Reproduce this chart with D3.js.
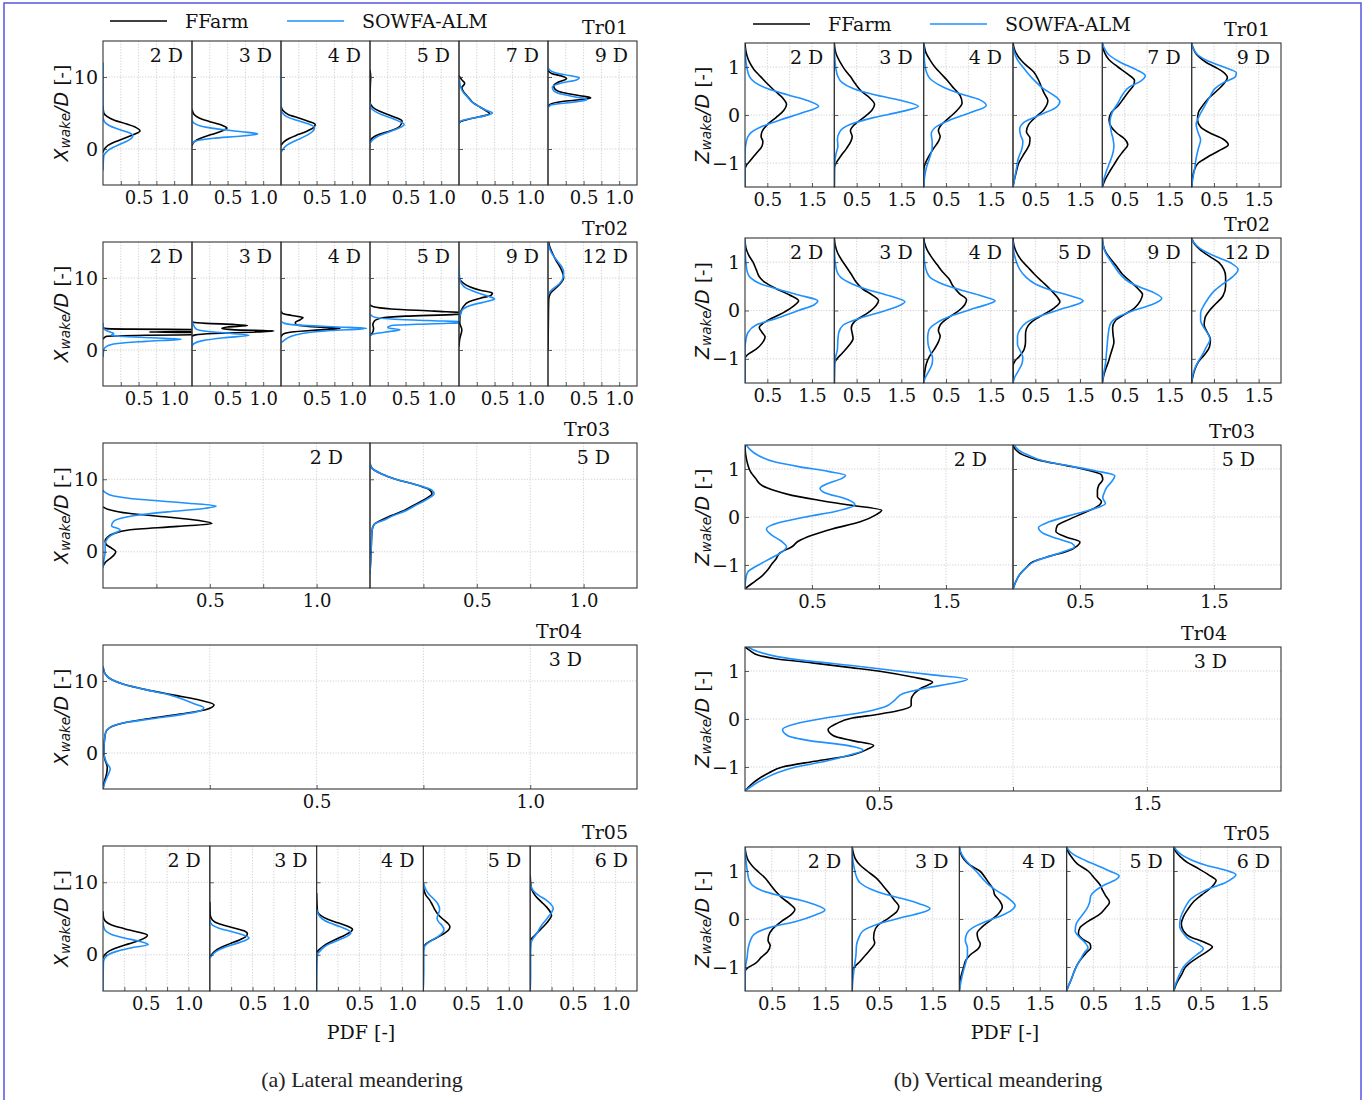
<!DOCTYPE html>
<html><head><meta charset="utf-8">
<script src="https://cdn.jsdelivr.net/npm/d3@7"></script>
<style>body{margin:0;background:#fff}</style>
</head><body>
<svg id="chart" width="1368" height="1100"></svg>
<script>
// ---------------- DATA ([coordinate, pdf] pairs) ----------------
const seriesNames = ["FFarm", "SOWFA-ALM"];
const latTitles = ["Tr01","Tr02","Tr03","Tr04","Tr05"];
const verTitles = ["Tr01","Tr02","Tr03","Tr04","Tr05"];
const distTr01 = ["2 D","3 D","4 D","5 D","7 D","9 D"];
const distTr02 = ["2 D","3 D","4 D","5 D","9 D","12 D"];
const distTr03 = ["2 D","5 D"];
const distTr04 = ["3 D"];
const distTr05 = ["2 D","3 D","4 D","5 D","6 D"];
const latXTicks = [0.25,0.5,0.75,1.0];
const latXLabels = [0.5,1.0];
const latYTicks = [0,10];
const verXTicks = [0.5,1.0,1.5];
const verXLabels = [0.5,1.5];
const verYTicks = [-1,0,1];

// ---- (a) Lateral meandering ----
const lat_tr01_ff = [
 [[-0.5,0],[0,0.02],[0.5,0.07],[1,0.17],[1.5,0.3],[2,0.43],[2.5,0.52],[3,0.46],[3.5,0.32],[4,0.16],[4.5,0.06],[5,0.01],[6,0]],
 [[0.5,0],[1,0.03],[1.5,0.12],[2,0.27],[2.5,0.42],[2.9,0.49],[3.3,0.42],[3.8,0.25],[4.3,0.1],[4.8,0.03],[5.5,0]],
 [[0.5,0],[1,0.04],[1.5,0.12],[2,0.24],[2.5,0.37],[3,0.46],[3.4,0.48],[3.8,0.4],[4.3,0.25],[4.8,0.1],[5.3,0.03],[6,0]],
 [[1,0],[1.5,0.03],[2,0.12],[2.5,0.28],[3,0.4],[3.5,0.44],[3.9,0.45],[4.3,0.38],[4.8,0.25],[5.3,0.12],[5.8,0.04],[6.5,0],[9,0.005],[10,0.01],[11,0]],
 [[3.5,0],[3.8,0.02],[4.1,0.12],[4.5,0.3],[4.9,0.43],[5.3,0.38],[5.8,0.3],[6.4,0.2],[7.2,0.13],[8,0.06],[8.5,0.04],[9.1,0.08],[9.6,0.04],[10.2,0]],
 [[5.8,0],[6.2,0.03],[6.6,0.2],[6.9,0.5],[7.1,0.6],[7.4,0.45],[7.8,0.22],[8.3,0.1],[8.8,0.08],[9.3,0.15],[9.8,0.26],[10.1,0.2],[10.5,0.05],[10.9,0]]
];
const lat_tr01_sw = [
 [[-3,0],[-1,0.01],[-0.5,0.04],[0,0.1],[0.5,0.2],[1,0.32],[1.5,0.4],[1.9,0.42],[2.3,0.36],[2.8,0.2],[3.3,0.08],[3.8,0.02],[4.5,0],[12,0]],
 [[0.7,0],[1.1,0.05],[1.5,0.3],[1.8,0.7],[2.1,0.92],[2.4,0.7],[2.8,0.35],[3.2,0.12],[3.6,0.03],[4,0]],
 [[-0.5,0],[0,0.03],[0.5,0.08],[1,0.17],[1.5,0.28],[2,0.38],[2.5,0.45],[3,0.47],[3.5,0.38],[4,0.22],[4.5,0.08],[5,0.02],[5.5,0],[11,0]],
 [[0.8,0],[1.2,0.03],[1.7,0.1],[2.2,0.22],[2.7,0.36],[3.1,0.45],[3.4,0.48],[3.8,0.42],[4.3,0.3],[4.8,0.16],[5.3,0.06],[5.8,0.01],[6.5,0]],
 [[3.5,0],[3.9,0.03],[4.2,0.15],[4.6,0.36],[5.0,0.47],[5.3,0.4],[5.8,0.3],[6.4,0.2],[7.2,0.12],[8,0.05],[8.7,0.02],[9.3,0.01],[10,0]],
 [[5.7,0],[6.1,0.04],[6.4,0.25],[6.7,0.5],[6.9,0.55],[7.2,0.4],[7.6,0.2],[8.1,0.08],[8.6,0.06],[9.2,0.2],[9.6,0.4],[9.9,0.44],[10.2,0.3],[10.6,0.1],[11,0.02],[11.4,0]]
];
const lat_tr02_ff = [
 [[1.5,0],[1.9,0.05],[2.05,0.6],[2.15,1.6],[2.3,1.8],[2.42,1.4],[2.5,0.65],[2.58,1.4],[2.7,1.9],[2.82,1.5],[2.9,0.4],[2.97,0.05],[3.1,0]],
 [[1.9,0],[2.1,0.05],[2.3,0.3],[2.5,0.9],[2.65,1.15],[2.8,0.6],[3.0,0.42],[3.2,0.5],[3.4,0.78],[3.55,0.6],[3.7,0.2],[3.85,0.02],[4,0]],
 [[1.8,0],[2.2,0.03],[2.5,0.15],[2.8,0.55],[3.0,0.83],[3.2,0.5],[3.5,0.22],[3.8,0.2],[4.2,0.27],[4.5,0.31],[4.8,0.15],[5.1,0.02],[5.4,0]],
 [[2,0],[2.3,0.03],[3,0.05],[3.5,0.04],[4,0.06],[4.4,0.15],[4.7,0.5],[4.95,1.2],[5.15,1.35],[5.4,0.9],[5.7,0.3],[6.0,0.05],[6.3,0]],
 [[0.5,0],[1.5,0.01],[2.8,0.04],[3.8,0.01],[5,0.02],[6,0.06],[6.7,0.14],[7.2,0.3],[7.6,0.45],[7.9,0.47],[8.3,0.3],[8.8,0.15],[9.3,0.06],[9.8,0.01],[10.2,0]],
 [[0,0],[4,0.005],[7,0.01],[7.8,0.03],[8.5,0.1],[9.3,0.18],[10,0.22],[10.6,0.21],[11.5,0.17],[12.5,0.11],[13.5,0.06],[14.5,0.02],[15,0.01]]
];
const lat_tr02_sw = [
 [[-1,0],[0,0.01],[0.5,0.05],[0.9,0.2],[1.2,0.6],[1.5,1.1],[1.7,0.7],[1.9,0.25],[2.1,0.12],[2.3,0.15],[2.5,0.1],[2.8,0.03],[3.2,0],[3.8,0]],
 [[0.5,0],[0.9,0.03],[1.3,0.15],[1.7,0.45],[2.05,0.8],[2.3,0.55],[2.6,0.2],[2.9,0.06],[3.3,0.03],[3.8,0.01],[4.3,0]],
 [[1,0],[1.3,0.04],[1.8,0.12],[2.3,0.3],[2.7,0.7],[3.0,1.2],[3.2,0.8],[3.45,0.25],[3.7,0.05],[4,0]],
 [[2,0],[2.3,0.08],[2.6,0.3],[2.8,0.42],[3.1,0.25],[3.4,0.3],[3.65,0.9],[3.85,1.4],[4.1,0.8],[4.3,0.3],[4.6,0.05],[5,0]],
 [[4,0],[5,0.02],[5.7,0.06],[6.3,0.2],[6.8,0.42],[7.1,0.5],[7.5,0.4],[8.0,0.25],[8.6,0.1],[9.3,0.03],[10,0.01],[11.5,0]],
 [[7.5,0],[8,0.02],[8.5,0.07],[9.2,0.16],[10,0.21],[10.8,0.22],[11.6,0.19],[12.5,0.12],[13.5,0.05],[14.5,0.01],[15,0]]
];
const lat_tr03_ff = [
 [[-2,0],[-1.5,0.01],[-1,0.03],[-0.5,0.05],[0,0.06],[0.5,0.04],[1,0.015],[1.5,0.01],[2,0.02],[2.5,0.05],[3,0.12],[3.5,0.35],[3.9,0.51],[4.3,0.45],[4.8,0.3],[5.3,0.12],[5.8,0.03],[6.2,0]],
 [[-3,0],[0,0.005],[3,0.01],[3.8,0.02],[4.3,0.05],[5,0.1],[5.7,0.16],[6.5,0.21],[7.3,0.26],[8.0,0.29],[8.5,0.28],[9.2,0.22],[10,0.12],[10.8,0.05],[11.5,0.01],[12.2,0]]
];
const lat_tr03_sw = [
 [[-2.2,0],[-1,0.005],[0,0.01],[1,0.01],[1.8,0.02],[2.5,0.05],[3.0,0.08],[3.6,0.04],[4.2,0.05],[4.6,0.08],[5.0,0.15],[5.5,0.3],[6.0,0.48],[6.3,0.53],[6.7,0.4],[7.2,0.18],[7.7,0.05],[8.2,0.01],[8.5,0]],
 [[-3,0],[0,0.005],[3,0.01],[3.8,0.02],[4.3,0.06],[5,0.11],[5.7,0.17],[6.5,0.22],[7.3,0.27],[8.0,0.3],[8.5,0.29],[9.2,0.22],[10,0.12],[10.8,0.05],[11.5,0.01],[12.2,0]]
];
const lat_tr04_ff = [
 [[-5,0],[-4,0.003],[-3,0.008],[-2,0.01],[-1,0.005],[0,0.002],[1.5,0.003],[2.8,0.006],[3.5,0.015],[4.2,0.05],[4.8,0.11],[5.4,0.18],[6.0,0.24],[6.7,0.26],[7.3,0.23],[8,0.17],[8.8,0.1],[9.5,0.05],[10.2,0.02],[11,0.005],[12,0]]
];
const lat_tr04_sw = [
 [[-5,0],[-4,0.005],[-3,0.012],[-2.2,0.017],[-1.3,0.008],[0,0.002],[1.5,0.003],[2.8,0.006],[3.5,0.015],[4.2,0.05],[4.8,0.12],[5.4,0.19],[5.9,0.23],[6.3,0.236],[6.8,0.215],[7.4,0.19],[8,0.16],[8.8,0.1],[9.5,0.05],[10.2,0.02],[11,0.005],[12,0]]
];
const lat_tr05_ff = [
 [[-0.5,0],[0,0.02],[0.5,0.07],[1,0.17],[1.5,0.3],[2,0.43],[2.4,0.5],[2.7,0.52],[3.1,0.42],[3.6,0.25],[4.1,0.1],[4.6,0.03],[5.2,0.005],[6,0]],
 [[-0.3,0],[0,0.02],[0.5,0.06],[1,0.13],[1.5,0.23],[2,0.34],[2.5,0.42],[2.9,0.44],[3.3,0.4],[3.8,0.25],[4.3,0.1],[4.8,0.03],[5.5,0.005],[7.3,0]],
 [[0.3,0],[0.7,0.03],[1.2,0.08],[1.7,0.15],[2.2,0.24],[2.7,0.33],[3.2,0.4],[3.5,0.42],[3.9,0.37],[4.4,0.25],[4.9,0.13],[5.4,0.05],[6,0.01],[8.5,0]],
 [[1,0],[1.5,0.03],[2,0.1],[2.5,0.18],[3,0.25],[3.5,0.3],[3.9,0.31],[4.4,0.28],[5,0.22],[5.6,0.17],[6.3,0.13],[7,0.1],[7.6,0.07],[8.2,0.03],[8.8,0.01],[9.5,0]],
 [[2,0],[2.4,0.03],[3,0.08],[3.6,0.13],[4.2,0.18],[4.8,0.22],[5.4,0.25],[6,0.23],[6.6,0.19],[7.3,0.13],[8,0.07],[8.7,0.03],[9.4,0.01],[11,0]]
];
const lat_tr05_sw = [
 [[-5,0],[-1,0.005],[-0.5,0.02],[0,0.06],[0.5,0.17],[1,0.35],[1.4,0.53],[1.8,0.45],[2.3,0.25],[2.8,0.1],[3.3,0.03],[4,0.005],[4.5,0]],
 [[-0.5,0],[0,0.03],[0.5,0.08],[1,0.17],[1.5,0.3],[2,0.42],[2.3,0.46],[2.7,0.4],[3.2,0.25],[3.7,0.1],[4.2,0.02],[4.8,0]],
 [[-5,0],[-2,0.003],[0,0.01],[0.5,0.04],[1,0.08],[1.5,0.15],[2,0.25],[2.5,0.35],[3,0.4],[3.4,0.37],[3.9,0.27],[4.4,0.15],[5,0.06],[5.6,0.02],[6.3,0]],
 [[-4.5,0],[-2,0.005],[0,0.005],[1,0.01],[1.5,0.04],[2,0.1],[2.5,0.17],[3,0.22],[3.5,0.24],[4,0.22],[4.5,0.18],[5,0.16],[5.5,0.17],[6.2,0.19],[7,0.17],[7.7,0.12],[8.4,0.06],[9.2,0.02],[10,0]],
 [[-5,0],[-3,0.005],[0,0.005],[1.5,0.01],[2.2,0.03],[2.8,0.07],[3.4,0.1],[4,0.13],[4.6,0.17],[5.2,0.21],[5.8,0.25],[6.4,0.27],[7,0.24],[7.6,0.18],[8.2,0.1],[8.8,0.04],[9.4,0.01],[10,0]]
];

// ---- (b) Vertical meandering ----
const ver_tr01_ff = [
 [[-1.5,0],[-1.15,0],[-1.05,0.03],[-0.95,0.12],[-0.8,0.25],[-0.65,0.38],[-0.55,0.4],[-0.45,0.36],[-0.35,0.38],[-0.2,0.5],[-0.05,0.7],[0.1,0.87],[0.22,0.93],[0.35,0.85],[0.5,0.67],[0.65,0.5],[0.8,0.35],[0.95,0.2],[1.1,0.1],[1.25,0.04],[1.4,0.01],[1.5,0]],
 [[-1.5,0],[-1.1,0],[-1.0,0.04],[-0.85,0.15],[-0.7,0.27],[-0.55,0.37],[-0.45,0.4],[-0.33,0.36],[-0.2,0.45],[-0.05,0.66],[0.1,0.84],[0.22,0.9],[0.35,0.8],[0.5,0.6],[0.65,0.47],[0.8,0.36],[0.95,0.23],[1.1,0.13],[1.25,0.05],[1.4,0.01],[1.5,0]],
 [[-1.5,0],[-1.15,0],[-1.0,0.04],[-0.85,0.12],[-0.7,0.22],[-0.55,0.33],[-0.45,0.37],[-0.33,0.33],[-0.2,0.4],[-0.05,0.58],[0.1,0.75],[0.25,0.86],[0.4,0.82],[0.55,0.68],[0.7,0.55],[0.85,0.4],[1.0,0.25],[1.15,0.14],[1.3,0.05],[1.45,0.01],[1.5,0]],
 [[-1.5,0],[-1.4,0.02],[-1.2,0.07],[-1.0,0.13],[-0.85,0.22],[-0.7,0.32],[-0.6,0.37],[-0.48,0.38],[-0.35,0.3],[-0.2,0.35],[-0.05,0.5],[0.1,0.68],[0.3,0.78],[0.45,0.7],[0.6,0.63],[0.75,0.56],[0.9,0.46],[1.05,0.28],[1.2,0.13],[1.35,0.04],[1.5,0]],
 [[-1.5,0],[-1.35,0.06],[-1.2,0.15],[-1.05,0.25],[-0.9,0.35],[-0.75,0.47],[-0.62,0.57],[-0.5,0.5],[-0.38,0.33],[-0.25,0.2],[-0.1,0.15],[0.05,0.2],[0.2,0.36],[0.35,0.48],[0.5,0.6],[0.62,0.7],[0.72,0.72],[0.85,0.57],[1.0,0.35],[1.15,0.15],[1.3,0.05],[1.45,0.01],[1.5,0]],
 [[-1.5,0],[-1.3,0.02],[-1.15,0.06],[-1.0,0.15],[-0.88,0.35],[-0.75,0.6],[-0.62,0.82],[-0.5,0.7],[-0.38,0.42],[-0.25,0.2],[-0.1,0.13],[0.05,0.15],[0.2,0.25],[0.35,0.38],[0.5,0.56],[0.65,0.72],[0.78,0.8],[0.9,0.7],[1.0,0.52],[1.1,0.32],[1.25,0.12],[1.4,0.03],[1.5,0]]
];
const ver_tr01_sw = [
 [[-1.5,0],[-0.8,0],[-0.55,0.03],[-0.4,0.1],[-0.25,0.35],[-0.1,0.8],[0.05,1.3],[0.18,1.65],[0.3,1.4],[0.42,0.95],[0.55,0.5],[0.68,0.22],[0.8,0.1],[1.0,0.04],[1.2,0.01],[1.4,0]],
 [[-1.5,0],[-1,0.01],[-0.8,0.04],[-0.65,0.08],[-0.5,0.07],[-0.35,0.12],[-0.2,0.35],[-0.05,0.9],[0.07,1.5],[0.18,1.88],[0.3,1.5],[0.42,0.9],[0.55,0.42],[0.68,0.17],[0.8,0.08],[1.0,0.03],[1.2,0.01],[1.45,0]],
 [[-1.5,0],[-1.3,0.02],[-1.1,0.06],[-0.9,0.13],[-0.7,0.19],[-0.55,0.19],[-0.4,0.17],[-0.25,0.27],[-0.1,0.6],[0.05,1.05],[0.2,1.4],[0.32,1.25],[0.45,0.8],[0.6,0.4],[0.75,0.15],[0.9,0.06],[1.1,0.02],[1.3,0.01],[1.5,0]],
 [[-1.5,0],[-1.3,0.04],[-1.1,0.08],[-0.9,0.12],[-0.7,0.2],[-0.55,0.22],[-0.42,0.17],[-0.3,0.15],[-0.15,0.25],[0,0.6],[0.15,0.95],[0.28,1.05],[0.42,0.9],[0.55,0.68],[0.7,0.5],[0.85,0.35],[1.0,0.22],[1.15,0.1],[1.3,0.03],[1.45,0]],
 [[-1.5,0],[-1.35,0.03],[-1.2,0.08],[-1.0,0.16],[-0.85,0.22],[-0.65,0.26],[-0.5,0.24],[-0.35,0.2],[-0.15,0.17],[0.05,0.22],[0.25,0.35],[0.45,0.47],[0.58,0.6],[0.7,0.85],[0.82,0.96],[0.95,0.75],[1.1,0.4],[1.25,0.15],[1.4,0.04],[1.5,0]],
 [[-1.5,0],[-1.3,0.03],[-1.1,0.07],[-0.9,0.1],[-0.7,0.15],[-0.52,0.2],[-0.38,0.15],[-0.2,0.1],[0,0.18],[0.2,0.3],[0.4,0.42],[0.55,0.52],[0.68,0.72],[0.8,0.98],[0.88,1.0],[1.0,0.72],[1.12,0.38],[1.25,0.14],[1.38,0.04],[1.5,0]]
];
const ver_tr02_ff = [
 [[-1.5,0],[-1.0,0],[-0.92,0.05],[-0.8,0.25],[-0.68,0.38],[-0.55,0.45],[-0.45,0.38],[-0.35,0.32],[-0.2,0.52],[-0.05,0.85],[0.1,1.1],[0.2,1.2],[0.32,1.0],[0.45,0.7],[0.58,0.45],[0.7,0.32],[0.85,0.25],[1.0,0.18],[1.15,0.08],[1.3,0.02],[1.45,0]],
 [[-1.5,0],[-1.1,0],[-1.0,0.06],[-0.88,0.18],[-0.72,0.33],[-0.58,0.42],[-0.47,0.4],[-0.36,0.38],[-0.22,0.46],[-0.05,0.75],[0.1,0.93],[0.2,0.99],[0.32,0.85],[0.45,0.63],[0.6,0.48],[0.75,0.38],[0.9,0.27],[1.05,0.16],[1.2,0.07],[1.35,0.02],[1.5,0]],
 [[-1.5,0],[-1.3,0.02],[-1.1,0.06],[-0.95,0.13],[-0.8,0.24],[-0.65,0.33],[-0.53,0.37],[-0.42,0.33],[-0.3,0.37],[-0.15,0.55],[0,0.79],[0.12,0.92],[0.22,0.96],[0.35,0.8],[0.5,0.66],[0.65,0.57],[0.8,0.42],[0.95,0.3],[1.1,0.18],[1.25,0.08],[1.4,0.02],[1.5,0]],
 [[-1.5,0],[-1.15,0],[-1.05,0.04],[-0.95,0.14],[-0.8,0.25],[-0.65,0.28],[-0.5,0.28],[-0.38,0.3],[-0.25,0.4],[-0.1,0.65],[0.05,0.92],[0.18,1.05],[0.3,0.97],[0.45,0.82],[0.6,0.65],[0.75,0.48],[0.9,0.33],[1.05,0.18],[1.2,0.08],[1.35,0.02],[1.5,0]],
 [[-1.5,0],[-1.35,0.03],[-1.2,0.08],[-1.05,0.14],[-0.92,0.18],[-0.8,0.22],[-0.65,0.26],[-0.5,0.24],[-0.35,0.23],[-0.2,0.3],[-0.08,0.5],[0.05,0.72],[0.2,0.85],[0.33,0.9],[0.45,0.8],[0.6,0.63],[0.75,0.45],[0.9,0.33],[1.05,0.2],[1.2,0.08],[1.35,0.02],[1.5,0]],
 [[-1.5,0],[-1.35,0.03],[-1.2,0.08],[-1.05,0.16],[-0.9,0.3],[-0.75,0.4],[-0.6,0.42],[-0.45,0.35],[-0.3,0.28],[-0.15,0.3],[0,0.4],[0.15,0.55],[0.3,0.7],[0.5,0.76],[0.7,0.76],[0.85,0.72],[1.0,0.6],[1.12,0.4],[1.25,0.2],[1.38,0.06],[1.5,0]]
];
const ver_tr02_sw = [
 [[-1.5,0],[-0.8,0],[-0.6,0.02],[-0.45,0.07],[-0.3,0.25],[-0.15,0.75],[0,1.2],[0.12,1.55],[0.2,1.63],[0.32,1.2],[0.45,0.7],[0.55,0.35],[0.68,0.12],[0.8,0.05],[1.0,0.02],[1.2,0.005],[1.5,0]],
 [[-1.5,0],[-1.0,0.02],[-0.8,0.07],[-0.6,0.08],[-0.45,0.1],[-0.3,0.2],[-0.15,0.6],[0,1.15],[0.1,1.45],[0.18,1.58],[0.3,1.25],[0.43,0.75],[0.55,0.4],[0.68,0.15],[0.8,0.06],[1.0,0.02],[1.2,0.005],[1.45,0]],
 [[-1.5,0],[-1.4,0.03],[-1.25,0.12],[-1.1,0.19],[-0.98,0.2],[-0.85,0.15],[-0.7,0.1],[-0.55,0.09],[-0.4,0.12],[-0.25,0.3],[-0.1,0.65],[0.05,1.15],[0.15,1.5],[0.2,1.6],[0.3,1.3],[0.42,0.85],[0.55,0.42],[0.68,0.15],[0.8,0.07],[1.0,0.02],[1.2,0.005],[1.45,0]],
 [[-1.5,0],[-1.4,0.03],[-1.25,0.12],[-1.1,0.2],[-0.98,0.22],[-0.85,0.17],[-0.7,0.1],[-0.55,0.1],[-0.4,0.15],[-0.25,0.3],[-0.1,0.65],[0.05,1.15],[0.15,1.5],[0.2,1.57],[0.3,1.3],[0.42,0.85],[0.55,0.5],[0.7,0.28],[0.85,0.15],[1.0,0.08],[1.2,0.02],[1.45,0]],
 [[-1.5,0],[-1.3,0.03],[-1.1,0.07],[-0.9,0.09],[-0.7,0.11],[-0.5,0.13],[-0.3,0.17],[-0.15,0.32],[0,0.7],[0.12,1.1],[0.25,1.33],[0.37,1.15],[0.48,0.85],[0.6,0.58],[0.75,0.4],[0.9,0.28],[1.05,0.17],[1.2,0.07],[1.35,0.02],[1.5,0]],
 [[-1.5,0],[-1.35,0.02],[-1.2,0.07],[-1.05,0.15],[-0.9,0.25],[-0.75,0.33],[-0.6,0.41],[-0.48,0.36],[-0.35,0.27],[-0.2,0.2],[-0.05,0.2],[0.1,0.27],[0.25,0.37],[0.4,0.5],[0.55,0.7],[0.7,0.92],[0.85,1.04],[0.97,0.9],[1.1,0.58],[1.22,0.3],[1.35,0.1],[1.45,0.02],[1.5,0]]
];
const ver_tr03_ff = [
 [[-1.5,0],[-1.45,0.02],[-1.35,0.07],[-1.22,0.13],[-1.1,0.17],[-0.98,0.2],[-0.88,0.23],[-0.75,0.26],[-0.62,0.35],[-0.5,0.4],[-0.38,0.5],[-0.25,0.65],[-0.1,0.86],[0.05,0.98],[0.14,1.02],[0.25,0.78],[0.35,0.55],[0.45,0.35],[0.55,0.22],[0.65,0.13],[0.8,0.08],[0.95,0.04],[1.1,0.02],[1.3,0.005],[1.5,0]],
 [[-1.5,0],[-1.35,0.02],[-1.2,0.05],[-1.05,0.1],[-0.93,0.15],[-0.82,0.27],[-0.72,0.4],[-0.6,0.48],[-0.52,0.5],[-0.42,0.4],[-0.3,0.32],[-0.18,0.33],[-0.05,0.42],[0.1,0.54],[0.22,0.63],[0.32,0.66],[0.42,0.63],[0.55,0.63],[0.66,0.64],[0.78,0.67],[0.88,0.66],[0.98,0.55],[1.07,0.4],[1.18,0.2],[1.3,0.07],[1.4,0.02],[1.5,0]]
];
const ver_tr03_sw = [
 [[-1.5,0],[-1.3,0.005],[-1.15,0.02],[-1.0,0.1],[-0.85,0.2],[-0.72,0.28],[-0.62,0.31],[-0.5,0.27],[-0.38,0.2],[-0.25,0.16],[-0.12,0.25],[0,0.45],[0.12,0.68],[0.26,0.82],[0.38,0.75],[0.5,0.6],[0.6,0.56],[0.7,0.62],[0.8,0.72],[0.87,0.75],[0.95,0.62],[1.05,0.4],[1.15,0.22],[1.28,0.1],[1.4,0.04],[1.5,0.01]],
 [[-1.5,0],[-1.35,0.02],[-1.2,0.05],[-1.05,0.1],[-0.93,0.16],[-0.82,0.27],[-0.72,0.38],[-0.62,0.46],[-0.55,0.44],[-0.45,0.33],[-0.33,0.22],[-0.22,0.19],[-0.1,0.27],[0.05,0.45],[0.15,0.58],[0.28,0.69],[0.4,0.67],[0.5,0.68],[0.62,0.7],[0.75,0.74],[0.86,0.76],[0.96,0.62],[1.05,0.45],[1.15,0.25],[1.28,0.12],[1.4,0.04],[1.5,0.01]]
];
const ver_tr04_ff = [
 [[-1.5,0],[-1.38,0.02],[-1.25,0.05],[-1.12,0.09],[-1.0,0.14],[-0.88,0.26],[-0.75,0.4],[-0.62,0.46],[-0.55,0.48],[-0.45,0.4],[-0.35,0.33],[-0.22,0.31],[-0.1,0.34],[0.02,0.4],[0.1,0.5],[0.17,0.57],[0.28,0.62],[0.4,0.62],[0.52,0.63],[0.65,0.66],[0.77,0.7],[0.88,0.62],[0.98,0.52],[1.08,0.38],[1.17,0.25],[1.25,0.12],[1.33,0.05],[1.42,0.02],[1.5,0]]
];
const ver_tr04_sw = [
 [[-1.5,0],[-1.38,0.03],[-1.25,0.07],[-1.12,0.12],[-1.0,0.19],[-0.88,0.3],[-0.75,0.39],[-0.65,0.44],[-0.55,0.38],[-0.45,0.24],[-0.35,0.16],[-0.22,0.14],[-0.1,0.19],[0.02,0.3],[0.12,0.42],[0.25,0.52],[0.4,0.56],[0.53,0.59],[0.65,0.68],[0.75,0.78],[0.83,0.83],[0.92,0.7],[1.0,0.57],[1.1,0.42],[1.2,0.25],[1.3,0.12],[1.4,0.05],[1.5,0.01]]
];
const ver_tr05_ff = [
 [[-1.5,0],[-1.1,0],[-1.02,0.05],[-0.92,0.2],[-0.8,0.3],[-0.68,0.42],[-0.55,0.47],[-0.45,0.43],[-0.35,0.44],[-0.2,0.52],[-0.05,0.68],[0.08,0.85],[0.2,0.93],[0.32,0.83],[0.45,0.68],[0.58,0.57],[0.72,0.47],[0.85,0.38],[0.98,0.25],[1.1,0.14],[1.22,0.06],[1.35,0.02],[1.5,0]],
 [[-1.5,0],[-1.1,0],[-1.0,0.04],[-0.88,0.15],[-0.75,0.25],[-0.62,0.35],[-0.5,0.42],[-0.4,0.4],[-0.28,0.41],[-0.13,0.48],[0.02,0.68],[0.15,0.83],[0.26,0.87],[0.4,0.78],[0.55,0.68],[0.7,0.57],[0.85,0.45],[1.0,0.28],[1.12,0.15],[1.25,0.06],[1.38,0.02],[1.5,0]],
 [[-1.5,0],[-1.3,0.01],[-1.15,0.04],[-1.0,0.08],[-0.86,0.12],[-0.75,0.2],[-0.62,0.35],[-0.52,0.39],[-0.42,0.35],[-0.3,0.33],[-0.17,0.42],[-0.03,0.58],[0.1,0.72],[0.25,0.8],[0.38,0.75],[0.5,0.66],[0.62,0.63],[0.75,0.55],[0.88,0.47],[1.0,0.38],[1.12,0.2],[1.25,0.08],[1.38,0.02],[1.5,0]],
 [[-1.5,0],[-1.38,0.04],[-1.25,0.09],[-1.1,0.14],[-0.95,0.2],[-0.82,0.28],[-0.7,0.37],[-0.6,0.45],[-0.52,0.44],[-0.42,0.3],[-0.3,0.22],[-0.18,0.25],[-0.05,0.4],[0.1,0.62],[0.22,0.72],[0.35,0.8],[0.48,0.73],[0.6,0.67],[0.72,0.62],[0.85,0.52],[1.0,0.4],[1.15,0.2],[1.28,0.1],[1.4,0.03],[1.5,0]],
 [[-1.5,0],[-1.4,0.03],[-1.28,0.08],[-1.15,0.15],[-1.0,0.22],[-0.9,0.32],[-0.78,0.48],[-0.68,0.62],[-0.58,0.72],[-0.48,0.56],[-0.37,0.3],[-0.25,0.18],[-0.1,0.14],[0.05,0.18],[0.2,0.26],[0.35,0.36],[0.5,0.52],[0.62,0.66],[0.72,0.75],[0.8,0.79],[0.92,0.65],[1.05,0.46],[1.18,0.25],[1.3,0.12],[1.4,0.04],[1.5,0]]
];
const ver_tr05_sw = [
 [[-1.5,0],[-1.0,0.01],[-0.8,0.04],[-0.6,0.06],[-0.45,0.1],[-0.32,0.17],[-0.18,0.45],[-0.05,0.95],[0.08,1.3],[0.19,1.49],[0.3,1.3],[0.4,1.0],[0.5,0.6],[0.6,0.3],[0.7,0.14],[0.8,0.08],[0.95,0.05],[1.1,0.03],[1.3,0.01],[1.5,0]],
 [[-1.5,0],[-1.3,0.01],[-1.0,0.04],[-0.75,0.07],[-0.55,0.08],[-0.4,0.12],[-0.25,0.2],[-0.1,0.5],[0.05,1.0],[0.15,1.35],[0.22,1.45],[0.32,1.25],[0.42,0.95],[0.52,0.6],[0.62,0.35],[0.75,0.15],[0.88,0.08],[1.05,0.04],[1.25,0.01],[1.5,0]],
 [[-1.5,0],[-1.3,0.03],[-1.1,0.07],[-0.9,0.12],[-0.75,0.15],[-0.6,0.15],[-0.45,0.11],[-0.3,0.14],[-0.18,0.25],[-0.05,0.5],[0.08,0.8],[0.18,0.97],[0.28,1.04],[0.4,0.95],[0.5,0.83],[0.6,0.68],[0.7,0.56],[0.82,0.45],[0.95,0.35],[1.1,0.22],[1.25,0.1],[1.38,0.03],[1.5,0]],
 [[-1.5,0],[-1.38,0.04],[-1.25,0.09],[-1.1,0.14],[-0.95,0.2],[-0.82,0.27],[-0.7,0.33],[-0.6,0.4],[-0.5,0.35],[-0.38,0.24],[-0.25,0.16],[-0.1,0.18],[0.05,0.27],[0.2,0.37],[0.35,0.43],[0.48,0.45],[0.6,0.55],[0.72,0.72],[0.82,0.92],[0.9,0.98],[1.0,0.8],[1.1,0.6],[1.22,0.35],[1.35,0.12],[1.45,0.03],[1.5,0]],
 [[-1.5,0],[-1.4,0.02],[-1.28,0.06],[-1.15,0.11],[-1.0,0.18],[-0.88,0.28],[-0.75,0.42],[-0.62,0.55],[-0.52,0.45],[-0.42,0.28],[-0.3,0.18],[-0.15,0.11],[0,0.12],[0.15,0.17],[0.3,0.24],[0.42,0.32],[0.55,0.5],[0.65,0.7],[0.75,0.95],[0.85,1.1],[0.92,1.16],[1.02,0.95],[1.12,0.6],[1.22,0.35],[1.32,0.17],[1.42,0.06],[1.5,0.01]]
];

// ---------------- DRAWING ----------------
const svg = d3.select("#chart");
const SERIF = "'DejaVu Serif', serif";
const colFF = "#000000", colSW = "#1e90ff";

svg.append("path").attr("d","M4,1100 V3 H1361 V1100")
  .attr("fill","none").attr("stroke","#5555e6").attr("stroke-width",1.5);

const defs = svg.append("defs");

const columns = [
 { id:"lat", x0:103, x1:637, xMax:1.25, yDom:[-5,15], xTicks:latXTicks, xLabels:latXLabels, yTicks:latYTicks,
   tops:[41,242,443,645,846], bottoms:[185,386,588,789,991], offs:[9,9,27,55,9],
   var:"X", ylabX:61, legendX:110, legendY:21, pdfX:361, capX:362, caption:"(a) Lateral meandering",
   rows:[
     {title:latTitles[0], dist:distTr01, ff:lat_tr01_ff, sw:lat_tr01_sw},
     {title:latTitles[1], dist:distTr02, ff:lat_tr02_ff, sw:lat_tr02_sw},
     {title:latTitles[2], dist:distTr03, ff:lat_tr03_ff, sw:lat_tr03_sw},
     {title:latTitles[3], dist:distTr04, ff:lat_tr04_ff, sw:lat_tr04_sw},
     {title:latTitles[4], dist:distTr05, ff:lat_tr05_ff, sw:lat_tr05_sw}
   ]},
 { id:"ver", x0:745, x1:1281, xMax:2.0, yDom:[-1.5,1.5], xTicks:verXTicks, xLabels:verXLabels, yTicks:verYTicks,
   tops:[43,238,445,647,847], bottoms:[187,383,589,791,991], offs:[11,11,26,54,11],
   var:"Z", ylabX:702, legendX:753, legendY:24, pdfX:1005, capX:998, caption:"(b) Vertical meandering",
   rows:[
     {title:verTitles[0], dist:distTr01, ff:ver_tr01_ff, sw:ver_tr01_sw},
     {title:verTitles[1], dist:distTr02, ff:ver_tr02_ff, sw:ver_tr02_sw},
     {title:verTitles[2], dist:distTr03, ff:ver_tr03_ff, sw:ver_tr03_sw},
     {title:verTitles[3], dist:distTr04, ff:ver_tr04_ff, sw:ver_tr04_sw},
     {title:verTitles[4], dist:distTr05, ff:ver_tr05_ff, sw:ver_tr05_sw}
   ]}
];

function styleAxis(g, size){
  g.select(".domain").remove();
  g.selectAll(".tick line").attr("stroke","#333").attr("stroke-width",0.8);
  g.selectAll(".tick text").attr("font-family",SERIF).attr("font-size",size).attr("fill","#111");
}

columns.forEach(col => {
  const g = svg.append("g");
  col.rows.forEach((row, ri) => {
    const top = col.tops[ri], bottom = col.bottoms[ri];
    const n = row.dist.length;
    const pw = (col.x1 - col.x0) / n;
    const y = d3.scaleLinear().domain(col.yDom).range([bottom, top]);
    row.dist.forEach((lab, pi) => {
      const px0 = col.x0 + pi*pw, px1 = px0 + pw;
      const x = d3.scaleLinear().domain([0, col.xMax]).range([px0, px1]);
      const pg = g.append("g");
      pg.selectAll("line.gx").data(col.xTicks).join("line").attr("class","gx")
        .attr("x1",d=>x(d)).attr("x2",d=>x(d)).attr("y1",top).attr("y2",bottom)
        .attr("stroke","#c4c4c4").attr("stroke-width",0.8).attr("stroke-dasharray","1.2,1.6");
      pg.selectAll("line.gy").data(col.yTicks).join("line").attr("class","gy")
        .attr("x1",px0).attr("x2",px1).attr("y1",d=>y(d)).attr("y2",d=>y(d))
        .attr("stroke","#c4c4c4").attr("stroke-width",0.8).attr("stroke-dasharray","1.2,1.6");
      const cid = `clip-${col.id}-${ri}-${pi}`;
      defs.append("clipPath").attr("id",cid).append("rect")
        .attr("x",px0).attr("y",top).attr("width",pw).attr("height",bottom-top);
      const line = d3.line().x(d=>x(d[1])).y(d=>y(d[0])).curve(d3.curveMonotoneY);
      const cg = pg.append("g").attr("clip-path",`url(#${cid})`);
      cg.append("path").attr("d", line(row.ff[pi].slice().reverse()))
        .attr("fill","none").attr("stroke",colFF).attr("stroke-width",1.6);
      cg.append("path").attr("d", line(row.sw[pi].slice().reverse()))
        .attr("fill","none").attr("stroke",colSW).attr("stroke-width",1.6);
      const ax = pg.append("g").attr("transform",`translate(0,${bottom})`)
        .call(d3.axisBottom(x).tickValues(col.xTicks).tickSizeInner(-4).tickSizeOuter(0).tickPadding(6)
          .tickFormat(d => col.xLabels.includes(d) ? d3.format(".1f")(d) : ""));
      styleAxis(ax, 18);
      const ay = pg.append("g").attr("transform",`translate(${px0},0)`)
        .call(d3.axisLeft(y).tickValues(col.yTicks).tickSizeInner(-4).tickSizeOuter(0).tickPadding(5)
          .tickFormat(d => pi===0 ? d3.format("d")(d) : ""));
      styleAxis(ay, 19);
      pg.append("rect").attr("x",px0).attr("y",top).attr("width",pw).attr("height",bottom-top)
        .attr("fill","none").attr("stroke","#333").attr("stroke-width",1.1);
      pg.append("text").attr("x",px1-col.offs[ri]).attr("y",top+21).attr("text-anchor","end")
        .attr("font-family",SERIF).attr("font-size",19).attr("fill","#111").text(lab);
    });
    g.append("text").attr("x",col.x1-col.offs[ri]).attr("y",top-7).attr("text-anchor","end")
      .attr("font-family",SERIF).attr("font-size",19).attr("fill","#111").text(row.title);
    const yl = g.append("text").attr("transform",`translate(${col.ylabX},${(top+bottom)/2}) rotate(-90)`)
      .attr("text-anchor","middle").attr("dominant-baseline","central")
      .attr("font-size",19).attr("fill","#111");
    yl.append("tspan").attr("font-family","'DejaVu Sans', sans-serif").attr("font-style","italic").text(col.var);
    yl.append("tspan").attr("font-family","'DejaVu Sans', sans-serif").attr("font-style","italic")
      .attr("font-size",13.5).attr("dy",4).text("wake");
    yl.append("tspan").attr("font-family","'DejaVu Sans', sans-serif").attr("font-style","italic")
      .attr("dy",-4).text("/D");
    yl.append("tspan").attr("font-family",SERIF).text(" [-]");
  });
  const lg = svg.append("g");
  const lx = col.legendX, ly = col.legendY;
  [[colFF, seriesNames[0], 0],[colSW, seriesNames[1], 177]].forEach(([c, t, dx]) => {
    lg.append("line").attr("x1",lx+dx).attr("x2",lx+dx+57).attr("y1",ly).attr("y2",ly)
      .attr("stroke",c).attr("stroke-width",1.6);
    lg.append("text").attr("x",lx+dx+75).attr("y",ly+7).attr("font-family",SERIF)
      .attr("font-size",19).attr("fill","#111").text(t);
  });
  svg.append("text").attr("x",col.pdfX).attr("y",1039).attr("text-anchor","middle")
    .attr("font-family",SERIF).attr("font-size",19).attr("fill","#111").text("PDF [-]");
  svg.append("text").attr("x",col.capX).attr("y",1087).attr("text-anchor","middle")
    .attr("font-family","'Liberation Serif', 'Times New Roman', serif").attr("font-size",22).attr("fill","#222").text(col.caption);
});
</script>
</body></html>
